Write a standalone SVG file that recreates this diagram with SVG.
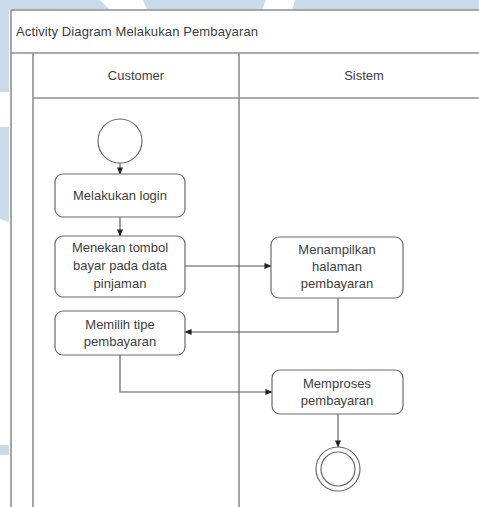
<svg xmlns="http://www.w3.org/2000/svg" width="479" height="507" viewBox="0 0 479 507">
<style>
  .wm { fill: #c9daeb; }
  .frame { fill: none; stroke: #8f8f8f; stroke-width: 1.6; }
  .node { fill: #ffffff; stroke: #6a6a6a; stroke-width: 1.2; }
  .lbl { font-family: "Liberation Sans", Arial, sans-serif; font-size: 13px; fill: #404040; text-anchor: middle; }
  .title { font-family: "Liberation Sans", Arial, sans-serif; font-size: 13px; fill: #404040; }
  .edge { fill: none; stroke: #555555; stroke-width: 1.1; }
</style>
<defs>
  <marker id="arr" viewBox="0 0 8 8" refX="7.5" refY="4" markerWidth="7" markerHeight="7" orient="auto" markerUnits="userSpaceOnUse">
    <path d="M0,0.5 L8,4 L0,7.5 Z" fill="#222222"/>
  </marker>
</defs>
<rect x="0" y="0" width="479" height="507" fill="#ffffff"/>
<g id="watermark">
  <polygon class="wm" points="0,0 100,0 110,10 0,10"/>
  <polygon class="wm" points="143,0 266,0 262,10 147,10"/>
  <polygon class="wm" points="295,0 479,0 479,10 292,10"/>
  <rect class="wm" x="0" y="10" width="9" height="82"/>
  <polygon class="wm" points="0,127 9,127 9,222 0,219"/>
  <rect class="wm" x="0" y="445" width="9" height="10"/>
</g>
<g id="frame">
  <line class="frame" x1="11" y1="10" x2="479" y2="10"/>
  <line class="frame" x1="11" y1="10" x2="11" y2="507"/>
  <line class="frame" x1="11" y1="53" x2="479" y2="53"/>
  <line class="frame" x1="33" y1="53" x2="33" y2="507"/>
  <line class="frame" x1="239" y1="53" x2="239" y2="507"/>
  <line class="frame" x1="33" y1="98" x2="479" y2="98"/>
  <text class="title" x="16" y="36" textLength="242">Activity Diagram Melakukan Pembayaran</text>
  <text class="lbl" x="136" y="80">Customer</text>
  <text class="lbl" x="364" y="80">Sistem</text>
</g>
<g id="connectors">
  <line class="edge" x1="120" y1="163" x2="120" y2="174" marker-end="url(#arr)"/>
  <line class="edge" x1="120" y1="217" x2="120" y2="236" marker-end="url(#arr)"/>
  <line class="edge" x1="185" y1="266" x2="271" y2="266" marker-end="url(#arr)"/>
  <polyline class="edge" points="338,298 338,332 185,332" marker-end="url(#arr)"/>
  <polyline class="edge" points="120,355 120,392 272,392" marker-end="url(#arr)"/>
  <line class="edge" x1="338" y1="414" x2="338" y2="447" marker-end="url(#arr)"/>
</g>
<g id="start">
  <circle class="node" cx="120" cy="141" r="22"/>
</g>
<g id="login">
  <rect class="node" x="55" y="174" width="130" height="43" rx="8"/>
  <text class="lbl" x="120" y="200">Melakukan login</text>
</g>
<g id="menekan">
  <rect class="node" x="55" y="236" width="130" height="61" rx="8"/>
  <text class="lbl" x="120" y="252">Menekan tombol</text>
  <text class="lbl" x="120" y="270">bayar pada data</text>
  <text class="lbl" x="120" y="288">pinjaman</text>
</g>
<g id="menampilkan">
  <rect class="node" x="271" y="237" width="132" height="61" rx="8"/>
  <text class="lbl" x="337" y="254">Menampilkan</text>
  <text class="lbl" x="337" y="271">halaman</text>
  <text class="lbl" x="337" y="288">pembayaran</text>
</g>
<g id="memilih">
  <rect class="node" x="55" y="311" width="130" height="44" rx="8"/>
  <text class="lbl" x="120" y="329">Memilih tipe</text>
  <text class="lbl" x="120" y="346">pembayaran</text>
</g>
<g id="memproses">
  <rect class="node" x="272" y="370" width="131" height="44" rx="8"/>
  <text class="lbl" x="337" y="388">Memproses</text>
  <text class="lbl" x="337" y="405">pembayaran</text>
</g>
<g id="end">
  <circle class="node" cx="338" cy="469" r="22"/>
  <circle class="node" cx="338" cy="469" r="17"/>
</g>
</svg>
